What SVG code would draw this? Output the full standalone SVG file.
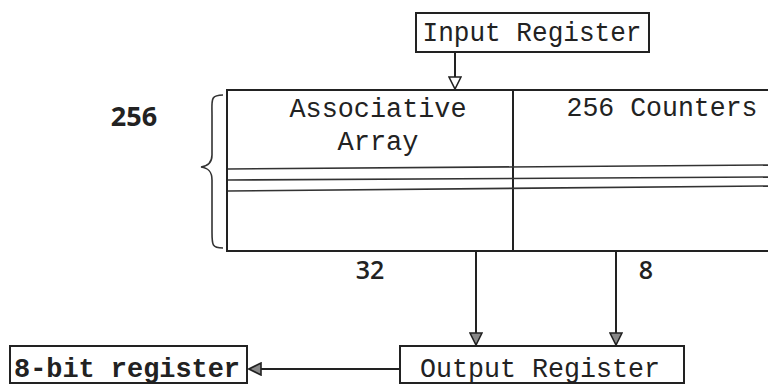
<svg xmlns="http://www.w3.org/2000/svg" width="768" height="385" viewBox="0 0 768 385">
<style>
.box{fill:none;stroke:#222;stroke-width:2}
.ln{fill:none;stroke:#222;stroke-width:2}
.thin{fill:none;stroke:#333;stroke-width:1.6}
.mono{font-family:"Liberation Mono","DejaVu Sans Mono",monospace;font-size:27px;fill:#222}
.bmono{font-family:"Liberation Mono","DejaVu Sans Mono",monospace;font-size:27px;font-weight:bold;fill:#222}
.num{font-family:"Open Sans","Liberation Sans",sans-serif;font-size:27px;font-weight:bold;fill:#222}
.numr{font-family:"Open Sans","Liberation Sans",sans-serif;font-size:25px;font-weight:600;fill:#222}
</style>
<defs>
<marker id="tri" viewBox="0 0 14 14" refX="13" refY="7" markerWidth="14" markerHeight="14" markerUnits="userSpaceOnUse" orient="auto">
<path d="M1,1 L13,7 L1,13 Z" fill="#888" stroke="#222" stroke-width="1.6"/>
</marker>
<marker id="open" viewBox="0 0 14 14" refX="13" refY="7" markerWidth="14" markerHeight="14" markerUnits="userSpaceOnUse" orient="auto">
<path d="M1,1 L13,7 L1,13 Z" fill="#fff" stroke="#222" stroke-width="1.6"/>
</marker>
</defs>
<g id="input-register">
<rect class="box" x="416" y="13" width="233" height="39"/>
<text class="mono" x="532" y="41" text-anchor="middle" textLength="219" lengthAdjust="spacingAndGlyphs">Input Register</text>
</g>
<g id="bits-label">
<text class="num" x="134" y="126" text-anchor="middle">256</text>
<path class="thin" d="M223,95 C210,95 212,100 212,115 L212,155 C212,163 208,166 201,167 C208,168 212,171 212,180 L212,232 C212,245 212,248 223,248"/>
</g>
<g id="associative-array">
<rect class="box" x="227" y="90" width="545" height="161"/>
<line class="ln" x1="513" y1="90" x2="513" y2="251"/>
<text class="mono" x="378" y="117" text-anchor="middle" textLength="177" lengthAdjust="spacingAndGlyphs">Associative</text>
<text class="mono" x="378" y="150" text-anchor="middle">Array</text>
<text class="mono" x="662" y="116" text-anchor="middle" textLength="191" lengthAdjust="spacingAndGlyphs">256 Counters</text>
<line class="thin" x1="228" y1="169" x2="768" y2="165"/>
<line class="thin" x1="228" y1="180" x2="768" y2="177"/>
<line class="thin" x1="228" y1="191" x2="768" y2="186"/>
</g>
<g id="labels">
<text class="numr" x="370" y="279" text-anchor="middle">32</text>
<text class="numr" x="646" y="279" text-anchor="middle">8</text>
</g>
<g id="output-register">
<rect class="box" x="400" y="346" width="284" height="37"/>
<text class="mono" x="540" y="377" text-anchor="middle" textLength="240" lengthAdjust="spacingAndGlyphs">Output Register</text>
</g>
<g id="eight-bit-register">
<rect class="box" x="10" y="346" width="237" height="37"/>
<text class="bmono" x="127" y="377" text-anchor="middle" textLength="226" lengthAdjust="spacingAndGlyphs">8-bit register</text>
</g>
<g id="connectors">
<line class="ln" x1="455" y1="52" x2="455" y2="89" marker-end="url(#open)"/>
<line class="ln" x1="476" y1="251" x2="476" y2="345" marker-end="url(#tri)"/>
<line class="ln" x1="616" y1="251" x2="616" y2="345" marker-end="url(#tri)"/>
<line class="ln" x1="400" y1="369" x2="249" y2="369" marker-end="url(#tri)"/>
</g>
</svg>
